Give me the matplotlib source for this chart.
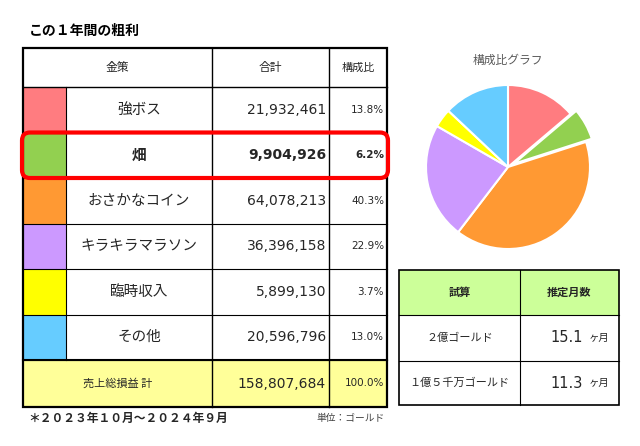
import matplotlib.pyplot as plt
from matplotlib.patches import Rectangle, FancyBboxPatch

plt.rcParams['font.family'] = ['Noto Sans CJK JP', 'DejaVu Sans']
NUM = ['DejaVu Sans']

# data
categories = ['強ボス', '畑', 'おさかなコイン', 'キラキラマラソン', '臨時収入', 'その他']
values = [21932461, 9904926, 64078213, 36396158, 5899130, 20596796]
pct_labels = ['13.8%', '6.2%', '40.3%', '22.9%', '3.7%', '13.0%']
total_label = '売上総損益 計'
total_value = 158807684
total_pct = '100.0%'
colors = ['#FF7C80', '#92D050', '#FF9933', '#CC99FF', '#FFFF00', '#66CCFF']
highlight = '畑'

est_labels = ['２億ゴールド', '１億５千万ゴールド']
est_months = [15.1, 11.3]

TXT = '#262626'

fig = plt.figure(figsize=(6.4, 4.46), dpi=100)
ax = fig.add_axes([0, 0, 1, 1])
ax.set_xlim(0, 640)
ax.set_ylim(446, 0)
ax.axis('off')

# title
ax.text(29, 31, 'この１年間の粗利', fontsize=10, fontweight='bold', color='black',
        va='center', ha='left')

# main table geometry (pixels)
x0, x1, x2, x3, x4 = 23, 66, 212, 329, 387
y_head, y_top = 48, 87
row_h = 45.5
y_rows = [y_top + i * row_h for i in range(len(categories) + 1)]
y_bot = y_rows[-1] + 47

# header
ax.text((x0 + x2) / 2, (y_head + y_top) / 2, '金策', fontsize=8.5, color=TXT, ha='center', va='center')
ax.text((x2 + x3) / 2, (y_head + y_top) / 2, '合計', fontsize=8.5, color=TXT, ha='center', va='center')
ax.text((x3 + x4) / 2, (y_head + y_top) / 2, '構成比', fontsize=8, color=TXT, ha='center', va='center')

for i, (cat, val, pct, col) in enumerate(zip(categories, values, pct_labels, colors)):
    ya, yb = y_rows[i], y_rows[i + 1]
    ym = (ya + yb) / 2
    ax.add_patch(Rectangle((x0, ya), x1 - x0, yb - ya, facecolor=col, edgecolor='none'))
    w = 'bold' if cat == highlight else 'normal'
    ax.text((x1 + x2) / 2, ym, cat, fontsize=10.5, color=TXT, ha='center', va='center', fontweight=w)
    ax.text(x3 - 3, ym, f'{val:,}', fontsize=10, family=NUM, color=TXT, ha='right', va='center',
            fontweight=w)
    ax.text(x4 - 3, ym, pct, fontsize=7.5, family=NUM, color=TXT, ha='right', va='center', fontweight=w)
    ax.plot([x0, x4], [yb, yb], color='black', lw=0.8)

# total row
yt0 = y_rows[-1]
ax.add_patch(Rectangle((x0, yt0), x4 - x0, y_bot - yt0, facecolor='#FFFF99', edgecolor='none'))
ym = (yt0 + y_bot) / 2
ax.text((x0 + x2) / 2, ym, total_label, fontsize=8, color=TXT, ha='center', va='center')
ax.text(x3 - 3, ym, f'{total_value:,}', fontsize=10, family=NUM, color=TXT, ha='right', va='center')
ax.text(x4 - 3, ym, total_pct, fontsize=7.5, family=NUM, color=TXT, ha='right', va='center')

# grid lines
ax.plot([x0, x4], [y_top, y_top], color='black', lw=1)
ax.plot([x0, x4], [yt0, yt0], color='black', lw=1.5)
ax.plot([x1, x1], [y_top, yt0], color='black', lw=0.8)
for xv in (x2, x3):
    ax.plot([xv, xv], [y_head, y_bot], color='black', lw=1)
ax.add_patch(Rectangle((x0, y_head), x4 - x0, y_bot - y_head, facecolor='none',
                       edgecolor='black', lw=1.6))

# highlight box
hi = categories.index(highlight)
ax.add_patch(FancyBboxPatch((x0 - 1, y_rows[hi]), x4 - x0 + 2, row_h,
                            boxstyle='round,pad=0,rounding_size=8',
                            facecolor='none', edgecolor='#FF0000', lw=3, zorder=5))

# footer
ax.text(28, 418, '＊２０２３年１０月～２０２４年９月', fontsize=8.5, fontweight='bold',
        color=TXT, ha='left', va='center')
ax.text(385, 418, '単位：ゴールド', fontsize=7, color='#404040', ha='right', va='center')

# estimate table
ex0, ex1, ex2 = 399, 520, 619
ey = [270, 315, 361, 405]
ax.add_patch(Rectangle((ex0, ey[0]), ex2 - ex0, ey[1] - ey[0], facecolor='#CCFF99', edgecolor='none'))
ax.text((ex0 + ex1) / 2, (ey[0] + ey[1]) / 2, '試算', fontsize=8, fontweight='bold', color=TXT,
        ha='center', va='center')
ax.text((ex1 + ex2) / 2, (ey[0] + ey[1]) / 2, '推定月数', fontsize=8, fontweight='bold', color=TXT,
        ha='center', va='center')
for i, (lab, m) in enumerate(zip(est_labels, est_months)):
    ym = (ey[i + 1] + ey[i + 2]) / 2
    ax.text((ex0 + ex1) / 2, ym, lab, fontsize=8, color=TXT, ha='center', va='center')
    ax.text(583, ym, f'{m:.1f}', fontsize=10.5, family=NUM, color=TXT, ha='right', va='center')
    ax.text(589, ym, 'ヶ月', fontsize=7.5, color=TXT, ha='left', va='center')
for yv in ey[1:3]:
    ax.plot([ex0, ex2], [yv, yv], color='black', lw=0.8)
ax.plot([ex1, ex1], [ey[0], ey[-1]], color='black', lw=0.8)
ax.add_patch(Rectangle((ex0, ey[0]), ex2 - ex0, ey[-1] - ey[0], facecolor='none',
                       edgecolor='black', lw=1.2))

# pie chart
ax.text(508, 60, '構成比グラフ', fontsize=8.5, color='#595959', ha='center', va='center')
cx, cy, r = 508, 167, 82
side = r * 2.4
pax = fig.add_axes([(cx - side / 2) / 640, (446 - cy - side / 2) / 446, side / 640, side / 446])
explode = [0.08 if c == highlight else 0 for c in categories]
pax.pie(values, colors=colors, startangle=90, counterclock=False, explode=explode,
        wedgeprops=dict(edgecolor='white', linewidth=1.5))
pax.set_xlim(-1.2, 1.2)
pax.set_ylim(-1.2, 1.2)
pax.set_aspect('equal')
pax.axis('off')

fig.savefig('out.png', dpi=100)
